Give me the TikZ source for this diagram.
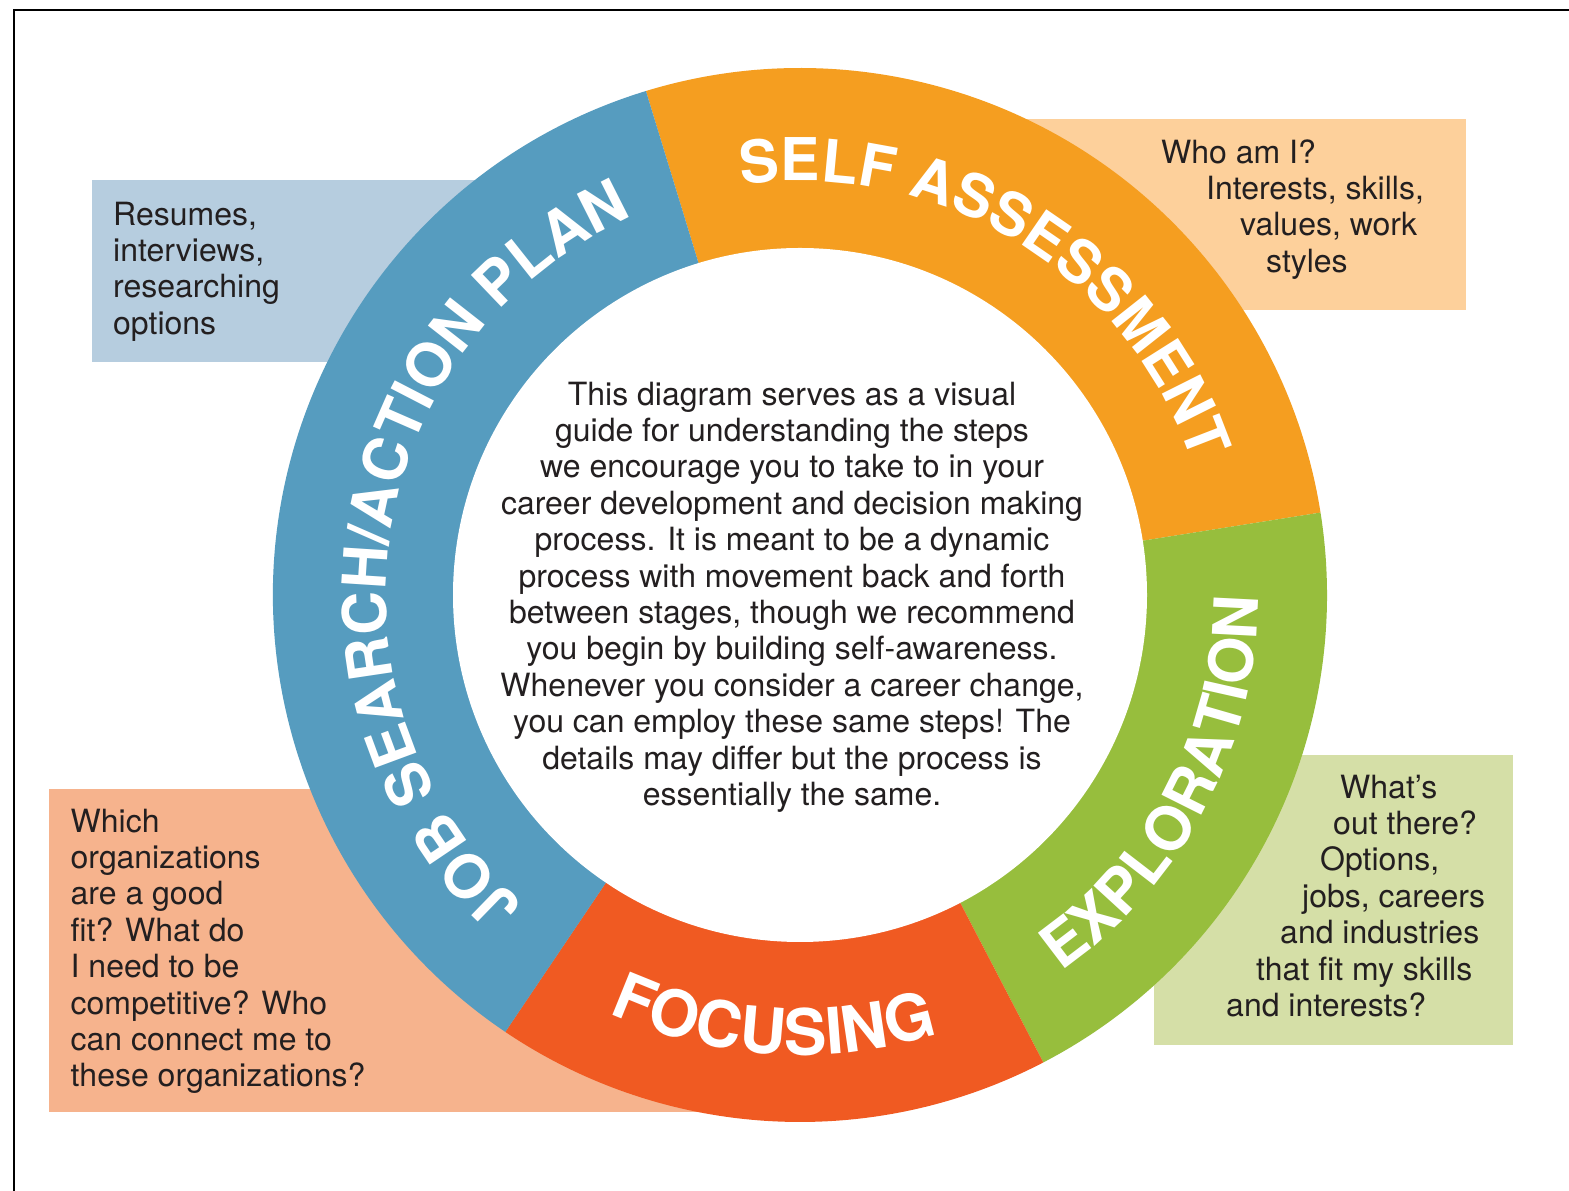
\documentclass[tikz,border=0pt]{standalone}
\usepackage{fontspec}
\setmainfont{TeX Gyre Heros}
\usetikzlibrary{decorations.text}
\definecolor{orangeC}{RGB}{245,158,32}
\definecolor{greenC}{RGB}{151,190,61}
\definecolor{redC}{RGB}{240,90,34}
\definecolor{blueC}{RGB}{86,156,191}
\definecolor{lblueC}{RGB}{182,205,223}
\definecolor{lorangeC}{RGB}{253,208,155}
\definecolor{lgreenC}{RGB}{213,223,167}
\definecolor{salmonC}{RGB}{246,179,141}
\definecolor{textdark}{RGB}{35,31,32}
\newcommand\ringfont[1]{\color{white}\bfseries\fontsize{#1}{#1}\selectfont}
\tikzset{
  bodytext/.style={font=\fontsize{32}{36.4}\selectfont, text=textdark, inner sep=0pt}
}
\begin{document}
\begin{tikzpicture}[x=1pt,y=1pt]
\useasboundingbox (0,0) rectangle (1569,1191);
\fill[white] (0,0) rectangle (1569,1191);
% frame (top and left edges)
\draw[line width=2.5pt] (14,0) -- (14,1181) -- (1569,1181);
% background boxes
\fill[lblueC] (92,829) rectangle (500,1011);
\fill[lorangeC] (960,881) rectangle (1466,1072);
\fill[lgreenC] (1154,146) rectangle (1513,436);
\fill[salmonC] (49,79) rectangle (700,402);
% ring
\coordinate (c) at (800,596);
\fill[orangeC] (c) -- ++(9:527) arc[start angle=9,end angle=107,radius=527] -- cycle;
\fill[greenC] (c) -- ++(-62.5:527) arc[start angle=-62.5,end angle=9,radius=527] -- cycle;
\fill[redC] (c) -- ++(-124:527) arc[start angle=-124,end angle=-62.5,radius=527] -- cycle;
\fill[blueC] (c) -- ++(107:527) arc[start angle=107,end angle=236,radius=527] -- cycle;
\fill[white] (c) circle[radius=347];
% ring labels
\path[decorate, decoration={text along path, text align=center,
  text={|\ringfont{59}|SELF ASSESSMENT}}]
  (c) ++(123.4:414) arc[start angle=123.4,end angle=-6.6,radius=414];
\path[decorate, decoration={text along path, text align=center,
  text={|\ringfont{60.5}|JOB SEARCH/ACTION PLAN}}]
  (c) ++(251:414) arc[start angle=251,end angle=91,radius=414];
\path[decorate, decoration={text along path, text align=center,
  text={|\ringfont{61}|EXPLORATION}}]
  (c) ++(-72.7:458) arc[start angle=-72.7,end angle=17.3,radius=458];
\path[decorate, decoration={text along path, text align=center,
  text={|\ringfont{64}|FOCUSING}}]
  (c) ++(-138.5:460) arc[start angle=-138.5,end angle=-48.5,radius=460];
% centre text
\node[bodytext, align=center, anchor=north] (desc) at (792,811.5)
 {\strut This diagram serves as a visual\\guide for understanding the steps\\we encourage you to take to in your\\career development and decision making\\process. It is meant to be a dynamic\\process with movement back and forth\\between stages, though we recommend\\you begin by building self-awareness.\\Whenever you consider a career change,\\you can employ these same steps! The\\details may differ but the process is\\essentially the same.};
% box texts
\node[bodytext, align=left, anchor=north west] (jobtext) at (113,991.5)
 {\strut Resumes,\\interviews,\\researching\\options};
\node[bodytext, align=left, anchor=north west] (selftext) at (1161,1053.5)
 {\strut Who am I?\\\hspace*{45pt}Interests, skills,\\\hspace*{79pt}values, work\\\hspace*{105pt}styles};
\node[bodytext, align=left, anchor=north west] (exptext) at (1226,418.5)
 {\hspace*{114pt}\strut What’s\\\hspace*{107pt}out there?\\\hspace*{94pt}Options,\\\hspace*{76pt}jobs, careers\\\hspace*{54pt}and industries\\\hspace*{30pt}that fit my skills\\and interests?};
\node[bodytext, align=left, anchor=north west] (focustext) at (70.5,384.5)
 {\strut Which\\organizations\\are a good\\fit? What do\\I need to be\\competitive? Who\\can connect me to\\these organizations?};
\end{tikzpicture}
\end{document}
